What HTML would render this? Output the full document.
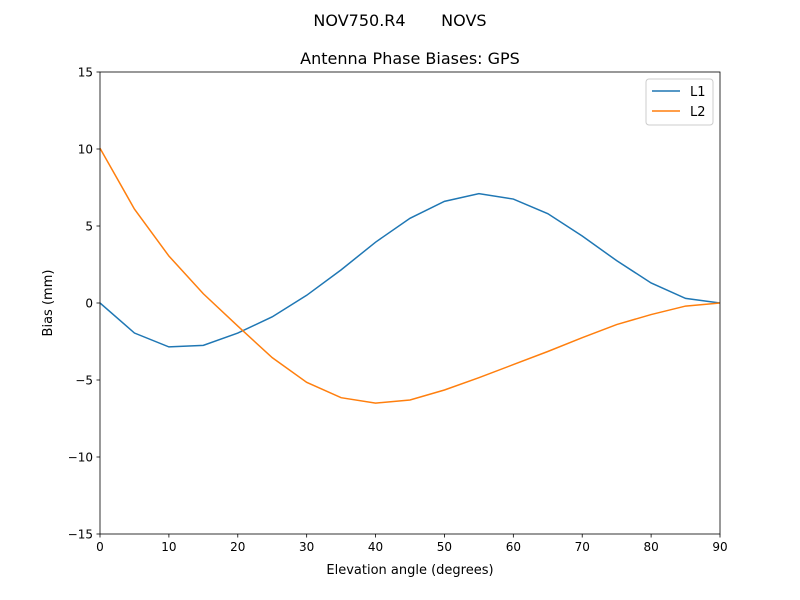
<!DOCTYPE html>
<html><head><meta charset="utf-8"><style>
body{margin:0;background:#fff;}
svg{display:block;font-family:"DejaVu Sans","Liberation Sans",sans-serif;}
</style></head><body>
<svg id="chart" width="800" height="600">
<rect width="800" height="600" fill="#fff"/>
<text x="400" y="26" text-anchor="middle" font-size="16" style="white-space:pre" xml:space="preserve">NOV750.R4       NOVS</text>
<text x="410" y="64" text-anchor="middle" font-size="16">Antenna Phase Biases: GPS</text>
<g id="plot"></g>
<text x="410" y="574" text-anchor="middle" font-size="13">Elevation angle (degrees)</text>
<text x="52" y="303" text-anchor="middle" font-size="13" transform="rotate(-90 52 303)">Bias (mm)</text>
</svg>
<script>
const elevations=[0,5,10,15,20,25,30,35,40,45,50,55,60,65,70,75,80,85,90];
const l1Values=[0,-1.95,-2.85,-2.75,-1.95,-0.9,0.5,2.15,3.95,5.5,6.6,7.1,6.75,5.8,4.35,2.75,1.3,0.3,0];
const l2Values=[10.05,6.1,3.05,0.6,-1.5,-3.55,-5.15,-6.15,-6.5,-6.3,-5.65,-4.85,-4.0,-3.15,-2.25,-1.4,-0.75,-0.2,0];
const xTicks=[0,10,20,30,40,50,60,70,80,90];
const yTicks=[-15,-10,-5,0,5,10,15];
const yTickLabels=["\u221215","\u221210","\u22125","0","5","10","15"];
const L=100,R=720,T=72,B=534;
const xs=v=>L+(v-0)/90*(R-L);
const ys=v=>B-(v+15)/30*(B-T);
const NS="http://www.w3.org/2000/svg";
const g=document.getElementById('plot');
function mk(tag,attrs,parent){const e=document.createElementNS(NS,tag);for(const k in attrs)e.setAttribute(k,attrs[k]);(parent||g).appendChild(e);return e;}
function series(vals,color,name){
  const d=vals.map((v,i)=>(i?'L':'M')+xs(elevations[i]).toFixed(2)+' '+ys(v).toFixed(2)).join(' ');
  const p=mk('path',{d:d,fill:'none',stroke:color,'stroke-width':1.5});
  
  
}
const clip=mk('clipPath',{id:'c'});mk('rect',{x:L,y:T,width:R-L,height:B-T},clip);
series(l1Values,'#1f77b4','l1-line');
series(l2Values,'#ff7f0e','l2-line');
g.querySelectorAll('path').forEach(p=>p.setAttribute('clip-path','url(#c)'));
const frame=mk('rect',{x:L,y:T,width:R-L,height:B-T,fill:'none',stroke:'#000','stroke-width':0.8});


xTicks.forEach(t=>{
  mk('line',{x1:xs(t),x2:xs(t),y1:B,y2:B+3.5,stroke:'#000','stroke-width':0.8});
  const tx=mk('text',{x:xs(t),y:B+17,'text-anchor':'middle','font-size':12});
  tx.textContent=t;
  
  
});
yTicks.forEach((t,i)=>{
  mk('line',{x1:L-3.5,x2:L,y1:ys(t),y2:ys(t),stroke:'#000','stroke-width':0.8});
  const tx=mk('text',{x:L-7,y:ys(t)+4.5,'text-anchor':'end','font-size':12});
  tx.textContent=yTickLabels[i];
  
  
});
const lg=mk('g',{});


mk('rect',{x:646,y:79,width:67,height:46,rx:3,fill:'#fff',stroke:'#ccc','stroke-width':1},lg);
[['L1','#1f77b4',91],['L2','#ff7f0e',111]].forEach(([n,c,y])=>{
  mk('line',{x1:652,x2:680,y1:y,y2:y,stroke:c,'stroke-width':1.5},lg);
  const t=mk('text',{x:690,y:y+5,'font-size':13},lg);t.textContent=n;
  
  
});
</script>
</body></html>
